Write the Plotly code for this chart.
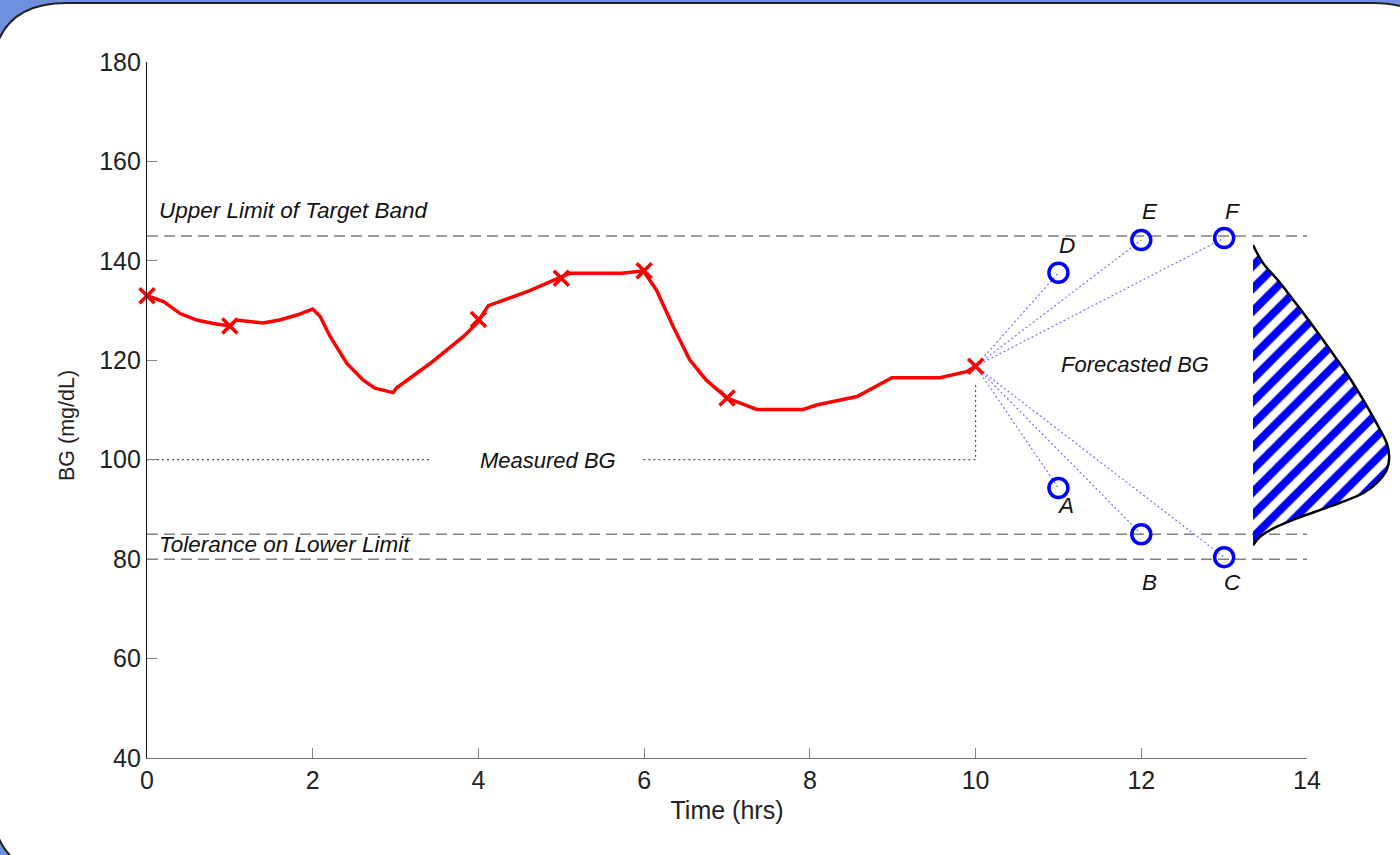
import plotly.graph_objects as go

# ---------------- data ----------------
t_curve = [0, 0.2, 0.4, 0.6, 0.8, 1.0, 1.08, 1.4, 1.6, 1.81, 2.0, 2.09, 2.21, 2.41, 2.61, 2.75, 2.97,
           3.01, 3.42, 3.82, 3.98, 4.12, 4.62, 4.98, 5.1, 5.73, 5.99, 6.15, 6.35, 6.55, 6.75, 7.0,
           7.36, 7.92, 8.08, 8.57, 8.99, 9.57, 9.89, 10.0]
bg_curve = [133, 131.8, 129.4, 128.1, 127.4, 126.9, 128.1, 127.5, 128.1, 129.1, 130.3, 128.8, 124.8,
            119.4, 116.0, 114.4, 113.5, 114.4, 119.4, 124.8, 127.4, 131.0, 134.0, 136.5, 137.5, 137.5,
            138.0, 134.1, 126.8, 120.1, 116.0, 112.4, 110.1, 110.1, 111.0, 112.7, 116.5, 116.5, 117.7, 118.8]

t_meas = [0, 1, 4, 5, 6, 7, 10]
bg_meas = [133, 126.9, 128.2, 136.5, 138, 112.4, 118.8]

f_time = [11, 12, 13, 11, 12, 13]
f_bg = [94.3, 85.0, 80.4, 137.6, 144.2, 144.6]
f_labels = ["A", "B", "C", "D", "E", "F"]

upper_limit = 145
lower_limit = 85
lower_tolerance = 80

# forecast distribution: BG level and relative density
dist_bg = [143.2, 139.6, 135.6, 131.2, 126.8, 122.1, 117.4, 112.0, 107.3, 103.3, 100.6, 98.0,
           95.3, 93.3, 90.6, 88.2, 86.2, 84.5, 82.8]
dist_density = [0, 0.0033, 0.009, 0.0146, 0.0201, 0.0257, 0.0312, 0.0368, 0.0412, 0.0446, 0.0454,
                 0.0446, 0.0412, 0.0368, 0.0257, 0.0146, 0.0068, 0.0023, 0]

# "Measured BG" leader line
leader_x = [0, 3.42, None, 5.99, 10, 10]
leader_y = [100, 100, None, 100, 100, 115.4]

x_ticks = [0, 2, 4, 6, 8, 10, 12, 14]
y_ticks = [40, 60, 80, 100, 120, 140, 160, 180]

FONT = "Liberation Sans, Arial, Helvetica, sans-serif"
L, T, W, H = 147, 62, 1253, 696   # plot area in pixels

fig = go.Figure()

# limit lines
for lv in [upper_limit, lower_limit, lower_tolerance]:
    fig.add_trace(go.Scatter(x=[0, 14], y=[lv, lv], mode="lines",
                             line=dict(color="#808080", width=1.5, dash="11px,6px"),
                             hoverinfo="skip", showlegend=False))

# leader line
fig.add_trace(go.Scatter(x=leader_x, y=leader_y, mode="lines",
                         line=dict(color="#555555", width=1.2, dash="2px,3px"),
                         hoverinfo="skip", showlegend=False))

# forecast rays
rx, ry = [], []
for x, y in zip(f_time, f_bg):
    rx += [t_meas[-1], x, None]
    ry += [bg_meas[-1], y, None]
fig.add_trace(go.Scatter(x=rx, y=ry, mode="lines",
                         line=dict(color="#7070ff", width=1.2, dash="2px,2.5px"),
                         hoverinfo="skip", showlegend=False))

# measured curve
fig.add_trace(go.Scatter(x=t_curve, y=bg_curve, mode="lines",
                         line=dict(color="#ff0000", width=3.5),
                         showlegend=False, cliponaxis=False))
fig.add_trace(go.Scatter(x=t_meas, y=bg_meas, mode="markers",
                         marker=dict(symbol="x-thin", size=15, line=dict(color="#ff0000", width=3.5)),
                         showlegend=False, cliponaxis=False))

# forecast points
fig.add_trace(go.Scatter(x=f_time, y=f_bg, mode="markers",
                         marker=dict(symbol="circle-open", size=19, color="#0000ff",
                                     line=dict(color="#0000ff", width=3.5)),
                         showlegend=False, cliponaxis=False))

# distribution (separate x axis)
fig.add_trace(go.Scatter(x=dist_density, y=dist_bg, xaxis="x2", yaxis="y", mode="lines",
                         line=dict(color="black", width=2.5, shape="spline", smoothing=1.0),
                         fill="tozerox",
                         fillpattern=dict(shape="/", fgcolor="#0000ff", bgcolor="white",
                                          fgopacity=1, size=16, solidity=0.5),
                         showlegend=False))

# text annotations
ann = []
def txt(x, y, s, xanchor="center", size=22.5):
    ann.append(dict(x=x, y=y, xref="x", yref="y", text="<i>" + s + "</i>", showarrow=False,
                    xanchor=xanchor, yanchor="middle",
                    font=dict(family=FONT, size=size, color="#111111")))

txt(0.12, 150.2, "Upper Limit of Target Band", xanchor="left")
txt(0.12, 82.9, "Tolerance on Lower Limit", xanchor="left")
txt(4.84, 99.8, "Measured BG", size=22)
txt(11.92, 119.1, "Forecasted BG", size=22)
label_pos = {"A": (11.09, 90.8), "B": (12.1, 75.4), "C": (13.1, 75.4),
             "D": (11.1, 143.0), "E": (12.1, 149.9), "F": (13.1, 149.9)}
for lab in f_labels:
    x, y = label_pos[lab]
    txt(x, y, lab)

# background rounded panel (pixel -> paper)
def px(x):
    return (x - L) / W
def py(y):
    return (T + H - y) / H

# y-axis title
ann.append(dict(x=px(67), y=py(426), xref="paper", yref="paper", text="BG (mg/dL)",
                textangle=-90, showarrow=False, xanchor="center", yanchor="middle",
                font=dict(family=FONT, size=21.5, color="#222222")))

x0, x1, y0, y1, r = -8, 1448, 3, 875, 75
path = (f"M {px(x0+r)},{py(y0)} L {px(x1-r)},{py(y0)} Q {px(x1)},{py(y0)} {px(x1)},{py(y0+r)} "
        f"L {px(x1)},{py(y1-r)} Q {px(x1)},{py(y1)} {px(x1-r)},{py(y1)} "
        f"L {px(x0+r)},{py(y1)} Q {px(x0)},{py(y1)} {px(x0)},{py(y1-r)} "
        f"L {px(x0)},{py(y0+r)} Q {px(x0)},{py(y0)} {px(x0+r)},{py(y0)} Z")

fig.update_layout(
    width=1400, height=855,
    margin=dict(l=L, r=1400 - L - W, t=T, b=855 - T - H, autoexpand=False),
    paper_bgcolor="#6f8fdf",
    plot_bgcolor="rgba(0,0,0,0)",
    font=dict(family=FONT, size=24, color="#222222"),
    annotations=ann,
    shapes=[dict(type="path", path=path, xref="paper", yref="paper", layer="below",
                 fillcolor="white", line=dict(color="#222222", width=2))],
    xaxis=dict(domain=[0, 1160 / W], range=[0, 14], tickvals=x_ticks, ticks="inside", ticklen=10,
               tickcolor="#808080", showline=True, linecolor="#707070", linewidth=1.2,
               showgrid=False, zeroline=False, fixedrange=True,
               tickfont=dict(size=25, color="#222222"),
               title=dict(text="Time (hrs)", standoff=8, font=dict(size=25))),
    xaxis2=dict(domain=[(1253 - L) / W, 1], range=[0, 0.049], anchor="y", visible=False,
                showgrid=False, zeroline=False, fixedrange=True),
    yaxis=dict(range=[40, 180], tickvals=y_ticks, ticks="inside", ticklen=10,
               tickcolor="#808080", showline=True, linecolor="#111111", linewidth=1.2,
               showgrid=False, zeroline=False, fixedrange=True,
               tickfont=dict(size=25, color="#222222")),
)

fig.write_html("out.html", config={"displayModeBar": False},
               post_script="document.body.style.margin='0px';document.body.style.overflow='hidden';")
